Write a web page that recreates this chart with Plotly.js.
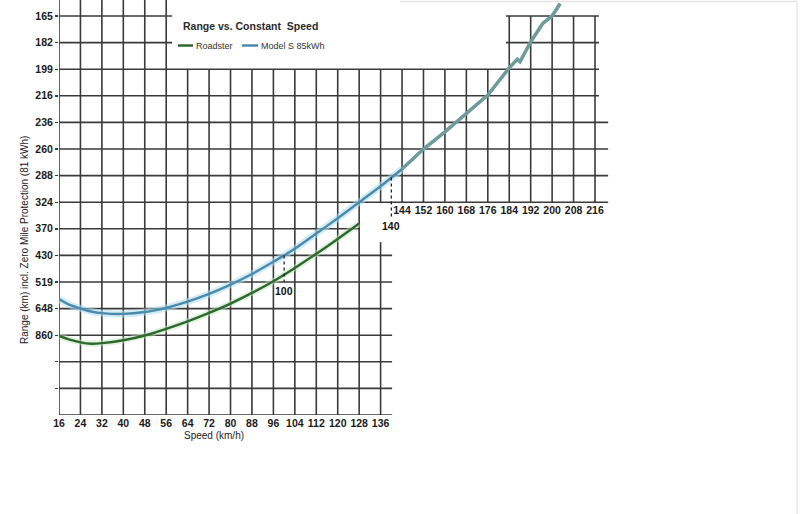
<!DOCTYPE html>
<html>
<head>
<meta charset="utf-8">
<script src="https://cdn.plot.ly/plotly-3.0.1.min.js"></script>
<style>html,body{margin:0;padding:0;background:#fff;}#chart{width:800px;height:514px;}</style>
</head>
<body>
<div id="chart"></div>
<script>
// ---- data (y values are in grid-row units of the chart's range scale) ----
const speedTicksMain = [16,24,32,40,48,56,64,72,80,88,96,104,112,120,128,136];
const speedTicksUpper = [144,152,160,168,176,184,192,200,208,216];
const rowTickVals = [1,2,3,4,5,6,7,8,9,10,11,12,13,14,15];
const rowTickText = ['','','860','648','519','430','370','324','288','260','236','216','199','182','165'];

const speedRoadster = [16,20,24,28,32,40,48,56,64,72,80,88,96,104,112,120,128];
const rowRoadster   = [2.97,2.83,2.73,2.68,2.70,2.81,2.99,3.24,3.52,3.84,4.19,4.59,5.03,5.53,6.06,6.62,7.2];

const speedModelS = [16,20,24,28,32,40,48,56,64,72,80,88,96,100,104,112,120,128,136,144,152,160,168,176,184,187,188,192,196.5,200,203];
const rowModelS   = [4.36,4.14,4.01,3.89,3.83,3.80,3.87,4.03,4.26,4.55,4.90,5.30,5.76,6.0,6.25,6.82,7.4,8.0,8.6,9.25,10.0,10.64,11.35,12.03,13.05,13.37,13.28,14.03,14.72,15.0,15.47];

const markerSpeeds  = [100,140];
const markerBottoms = [5.0,7.45];

// ---- geometry helpers ----
const W = 800, H = 514, ML = 59, MB = 99;
const pxPerSpeed = 2.68, pxPerRow = 26.6;
const xMax = 16 + (W - ML) / pxPerSpeed;
const yMax = (H - MB) / pxPerRow;

function interp(xs, ys, x) {
  for (let i = 0; i < xs.length - 1; i++) {
    if (x >= xs[i] && x <= xs[i+1]) {
      const t = (x - xs[i]) / (xs[i+1] - xs[i]);
      return ys[i] + t * (ys[i+1] - ys[i]);
    }
  }
  return ys[ys.length-1];
}

const split = 144;
const mainIdx = speedModelS.map((s,i)=>i).filter(i=>speedModelS[i] <= split);
const extIdx  = speedModelS.map((s,i)=>i).filter(i=>speedModelS[i] >= split);

const green = '#2c6a2c', blue = '#4a8aac', teal = '#6e9b9c';

const traces = [
  {x: speedRoadster, y: rowRoadster, mode:'lines', line:{color:'rgba(195,228,195,0.5)', width:6, shape:'spline', smoothing:0.8}, hoverinfo:'skip', showlegend:false},
  {x: mainIdx.map(i=>speedModelS[i]), y: mainIdx.map(i=>rowModelS[i]), mode:'lines', line:{color:'rgba(175,222,238,0.55)', width:7, shape:'spline', smoothing:0.8}, hoverinfo:'skip', showlegend:false},
  {name:'Roadster', x: speedRoadster, y: rowRoadster, mode:'lines', line:{color:green, width:2.4, shape:'spline', smoothing:0.8}, showlegend:false},
  {name:'Model S 85kWh', x: mainIdx.map(i=>speedModelS[i]), y: mainIdx.map(i=>rowModelS[i]), mode:'lines', line:{color:blue, width:2.4, shape:'spline', smoothing:0.8}, showlegend:false},
  {name:'Model S 85kWh', x: extIdx.map(i=>speedModelS[i]), y: extIdx.map(i=>rowModelS[i]), xaxis:'x2', mode:'lines', line:{color:teal, width:3.6}, showlegend:false}
];
markerSpeeds.forEach((s,k)=>{
  traces.push({x:[s,s], y:[interp(speedModelS,rowModelS,s), markerBottoms[k]], mode:'lines', line:{color:'#111', width:1.2, dash:'dot'}, hoverinfo:'skip', showlegend:false});
});

// ---- grid segments ----
const gridColor = '#3a3a3a', gw = 1.6;
const shapes = [];
function seg(x0,y0,x1,y1){ shapes.push({type:'line', xref:'x', yref:'y', x0, y0, x1, y1, layer:'below', line:{color:gridColor, width:gw}}); }
[16,24,32,40,48,56].forEach(v=>seg(v,0,v,yMax));
[64,72,80,88,96,104,112,120,128].forEach(v=>seg(v,0,v,13));
seg(136,0,136,6.5); seg(136,8,136,13);
[144,152,160,168,176].forEach(v=>seg(v,8,v,13));
[184,192,200,208,216].forEach(v=>seg(v,8,v,15));
[0,1,2,3,4,5,6].forEach(r=>seg(16,r,140.3,r));
seg(16,7,128,7);
[8,9,10,11].forEach(r=>seg(16,r,220.9,r));
[12,13].forEach(r=>seg(16,r,217.5,r));
[14,15].forEach(r=>{ seg(16,r,58.2,r); seg(182.8,r,217.5,r); });

// faint frame at the right edge
const px = p => (p - ML) / (W - ML);
const py = p => ((H - MB) - p) / (H - MB);
shapes.push({type:'line', xref:'paper', yref:'paper', x0:px(400), y0:py(1.5), x1:px(797), y1:py(1.5), line:{color:'#e4e4e4', width:1.5}});
shapes.push({type:'line', xref:'paper', yref:'paper', x0:px(797), y0:py(1.5), x1:px(797), y1:py(514), line:{color:'#e8e8e8', width:1.5}});

// legend samples
shapes.push({type:'line', xref:'paper', yref:'paper', x0:px(178), y0:py(45.5), x1:px(193), y1:py(45.5), line:{color:green, width:2.5}});
shapes.push({type:'line', xref:'paper', yref:'paper', x0:px(242), y0:py(45.5), x1:px(258), y1:py(45.5), line:{color:blue, width:2.5}});

const fontFam = 'Liberation Sans, Arial, sans-serif';
const annotations = [
  {xref:'paper', yref:'paper', x:px(194), y:py(46), xanchor:'left', yanchor:'middle', text:'Roadster', showarrow:false, font:{family:fontFam, size:9, color:'#333'}},
  {xref:'paper', yref:'paper', x:px(259), y:py(46), xanchor:'left', yanchor:'middle', text:'Model S 85kWh', showarrow:false, font:{family:fontFam, size:9, color:'#333'}},
  {xref:'paper', yref:'paper', x:px(213.5), y:py(435), xanchor:'center', yanchor:'middle', text:'Speed (km/h)', showarrow:false, font:{family:fontFam, size:10, color:'#222'}},
  {xref:'paper', yref:'paper', x:px(24), y:py(240), xanchor:'center', yanchor:'middle', textangle:-90, text:'Range (km) incl. Zero Mile Protection (81 kWh)', showarrow:false, font:{family:fontFam, size:10, color:'#222'}}
];
markerSpeeds.forEach((s,k)=>{
  annotations.push({xref:'x', yref:'y', x:s, y:markerBottoms[k], xanchor:'center', yanchor:'top', yshift:-1, text:String(s), showarrow:false, font:{family:fontFam, size:10.5, color:'#111', weight:'bold'}});
});

const xTickFont = {family:fontFam, size:10.5, color:'#1a1a1a', weight:'bold'};
const yTickFont = {family:fontFam, size:10.5, color:'#1a1a1a', weight:'bold'};
const layout = {
  width: W, height: H,
  margin: {l: ML, r: 0, t: 0, b: MB, pad: 0},
  paper_bgcolor: '#fff', plot_bgcolor: '#fff',
  showlegend: false,
  title: {text: 'Range vs. Constant\u00a0 Speed', x: 183/W, xanchor:'left', xref:'container', y: 1 - 26/H, yanchor:'middle', yref:'container', font:{family:fontFam, size:10.5, color:'#2a2a2a', weight:'bold'}},
  xaxis: {range:[16, xMax], tickvals: speedTicksMain, ticktext: speedTicksMain.map(String), showgrid:false, zeroline:false, showline:false, ticks:'', tickfont: xTickFont, fixedrange:true},
  xaxis2: {matches:'x', overlaying:'x', anchor:'free', position: 8 / yMax, side:'bottom', range:[16, xMax], tickvals: speedTicksUpper, ticktext: speedTicksUpper.map(String), showgrid:false, zeroline:false, showline:false, ticks:'', tickfont: xTickFont, fixedrange:true},
  yaxis: {range:[0, yMax], tickvals: rowTickVals, ticktext: rowTickText, showgrid:false, zeroline:false, showline:false, ticks:'outside', ticklen:3, tickcolor:gridColor, tickwidth:1.4, tickfont: yTickFont, fixedrange:true},
  shapes, annotations
};
Plotly.newPlot('chart', traces, layout, {displayModeBar:false, staticPlot:true});
</script>
</body>
</html>
